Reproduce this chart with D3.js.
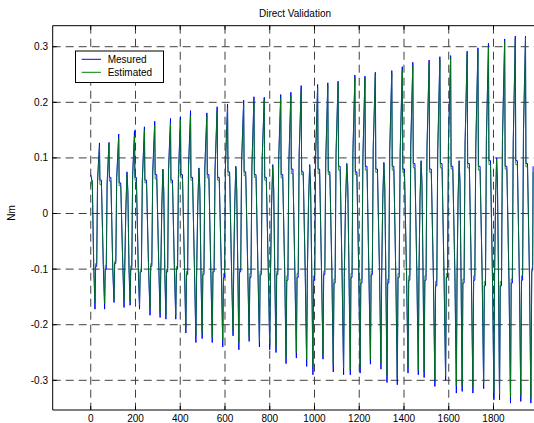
<!DOCTYPE html>
<html><head><meta charset="utf-8">
<script src="https://cdn.jsdelivr.net/npm/d3@7"></script>
<style>body{margin:0;background:#fff}svg{display:block}text{font-family:"Liberation Sans",Arial,sans-serif;fill:#000}</style>
</head><body><svg id="c" width="534" height="423"></svg>
<script>
const title = "Direct Validation";
const yLabel = "Nm";
const seriesNames = ["Mesured", "Estimated"];
const xTicks = [0, 200, 400, 600, 800, 1000, 1200, 1400, 1600, 1800];
const yTicks = [-0.3, -0.2, -0.1, 0, 0.1, 0.2, 0.3];
const yTickLabels = ["-0.3", "-0.2", "-0.1", "0", "0.1", "0.2", "0.3"];

// cycle troughs (time), every 4th cycle is a weak one
const troughX = [19, 62, 104, 149, 176, 218, 265, 310, 336, 380, 425, 470, 498, 543, 590, 636,
  662, 708, 754, 800, 828, 873, 919, 965, 993, 1038, 1084, 1130, 1160, 1204, 1250, 1297,
  1324, 1370, 1418, 1464, 1490, 1538, 1586, 1634, 1660, 1708, 1756, 1802, 1827, 1876, 1922, 1967];

const troughMeasured = [-0.172, -0.172, -0.160, -0.169, -0.165, -0.172, -0.183, -0.187, -0.190, -0.190, -0.215, -0.232,
  -0.225, -0.232, -0.240, -0.220, -0.245, -0.230, -0.240, -0.245, -0.250, -0.270, -0.260, -0.275,
  -0.290, -0.262, -0.285, -0.290, -0.290, -0.287, -0.271, -0.280, -0.304, -0.308, -0.287, -0.290,
  -0.295, -0.311, -0.300, -0.323, -0.320, -0.323, -0.315, -0.335, -0.335, -0.341, -0.338, -0.341];
const troughEstimated = [-0.160, -0.162, -0.155, -0.158, -0.158, -0.165, -0.172, -0.178, -0.182, -0.183, -0.205, -0.220,
  -0.215, -0.222, -0.228, -0.212, -0.232, -0.222, -0.230, -0.235, -0.240, -0.258, -0.250, -0.262,
  -0.275, -0.255, -0.272, -0.278, -0.280, -0.278, -0.262, -0.270, -0.292, -0.296, -0.278, -0.282,
  -0.285, -0.300, -0.292, -0.310, -0.310, -0.312, -0.305, -0.322, -0.325, -0.330, -0.328, -0.332];

const peakMeasured = [0.127, 0.128, 0.143, 0.075, 0.149, 0.156, 0.166, 0.080, 0.171, 0.174, 0.185, 0.082,
  0.181, 0.192, 0.197, 0.085, 0.204, 0.210, 0.209, 0.088, 0.214, 0.218, 0.230, 0.088,
  0.232, 0.235, 0.238, 0.090, 0.249, 0.247, 0.254, 0.092, 0.257, 0.264, 0.272, 0.095,
  0.276, 0.282, 0.284, 0.095, 0.292, 0.298, 0.306, 0.100, 0.314, 0.319, 0.319, 0.100];
const peakEstimated = [0.120, 0.125, 0.135, 0.070, 0.140, 0.150, 0.158, 0.078, 0.162, 0.168, 0.175, 0.080,
  0.176, 0.185, 0.190, 0.082, 0.195, 0.200, 0.204, 0.085, 0.208, 0.212, 0.222, 0.086,
  0.226, 0.230, 0.234, 0.088, 0.244, 0.244, 0.250, 0.090, 0.252, 0.258, 0.266, 0.092,
  0.270, 0.276, 0.280, 0.093, 0.288, 0.292, 0.300, 0.098, 0.310, 0.314, 0.316, 0.098];

const kneeMeasured = [0.060, 0.055, 0.065, 0.010, 0.070, 0.060, 0.075, 0.015, 0.080, 0.070, 0.085, 0.015,
  0.085, 0.080, 0.090, 0.020, 0.095, 0.085, 0.100, 0.020, 0.100, 0.090, 0.105, 0.020,
  0.105, 0.095, 0.110, 0.025, 0.110, 0.100, 0.120, 0.025, 0.115, 0.110, 0.125, 0.030,
  0.120, 0.115, 0.130, 0.030, 0.125, 0.120, 0.135, 0.030, 0.135, 0.130, 0.150, 0.030];
const kneeEstimated = [0.055, 0.050, 0.060, 0.005, 0.065, 0.058, 0.070, 0.010, 0.075, 0.066, 0.080, 0.012,
  0.080, 0.076, 0.086, 0.015, 0.090, 0.080, 0.095, 0.016, 0.095, 0.086, 0.100, 0.018,
  0.100, 0.090, 0.105, 0.020, 0.106, 0.096, 0.115, 0.022, 0.110, 0.105, 0.120, 0.025,
  0.115, 0.110, 0.125, 0.026, 0.120, 0.115, 0.130, 0.028, 0.130, 0.125, 0.145, 0.028];

const upperMeasured = [0.060, 0.065, 0.055, 0.040, 0.065, 0.060, 0.070, 0.040, 0.060, 0.070, 0.065, 0.045,
  0.070, 0.065, 0.075, 0.045, 0.075, 0.070, 0.065, 0.045, 0.070, 0.080, 0.075, 0.050,
  0.080, 0.075, 0.085, 0.050, 0.075, 0.085, 0.080, 0.050, 0.085, 0.080, 0.090, 0.055,
  0.080, 0.090, 0.085, 0.055, 0.090, 0.085, 0.095, 0.055, 0.085, 0.095, 0.090, 0.055];
const upperEstimated = [0.052, 0.058, 0.050, 0.035, 0.060, 0.055, 0.062, 0.038, 0.055, 0.064, 0.060, 0.040,
  0.064, 0.060, 0.068, 0.040, 0.068, 0.065, 0.060, 0.042, 0.064, 0.072, 0.070, 0.045,
  0.072, 0.070, 0.078, 0.046, 0.070, 0.078, 0.074, 0.046, 0.078, 0.074, 0.082, 0.050,
  0.074, 0.082, 0.080, 0.050, 0.082, 0.078, 0.088, 0.050, 0.080, 0.088, 0.084, 0.050];

const lowerMeasured = [-0.095, -0.100, -0.090, -0.100, -0.100, -0.105, -0.095, -0.110, -0.105, -0.100, -0.110, -0.115,
  -0.110, -0.105, -0.115, -0.100, -0.105, -0.115, -0.110, -0.120, -0.110, -0.120, -0.115, -0.110,
  -0.120, -0.110, -0.125, -0.115, -0.115, -0.125, -0.110, -0.120, -0.125, -0.115, -0.120, -0.110,
  -0.120, -0.130, -0.115, -0.125, -0.125, -0.120, -0.130, -0.115, -0.130, -0.125, -0.120, -0.110];
const lowerEstimated = [-0.090, -0.094, -0.086, -0.095, -0.094, -0.100, -0.090, -0.104, -0.100, -0.095, -0.104, -0.108,
  -0.104, -0.100, -0.108, -0.095, -0.100, -0.108, -0.104, -0.112, -0.104, -0.112, -0.108, -0.104,
  -0.112, -0.104, -0.118, -0.108, -0.108, -0.118, -0.104, -0.112, -0.118, -0.108, -0.112, -0.104,
  -0.112, -0.122, -0.108, -0.118, -0.118, -0.112, -0.122, -0.108, -0.122, -0.118, -0.112, -0.104];

// start and end of the records
const headX = [0, 7, 13];
const headMeasured = [0.070, 0.055, -0.090];
const headEstimated = [0.050, 0.060, -0.085];
const tailX = [1971, 1975, 1977];
const tailMeasured = [-0.105, -0.100, 0.085];
const tailEstimated = [-0.100, -0.095, 0.075];

const svg = d3.select("#c");
const L = 52.7, T = 25.7, B = 410, R = 538.25;
const x = d3.scaleLinear().domain([-170, 2000]).range([L, R]);
const y = d3.scaleLinear().domain([-0.3534, 0.3378]).range([B, T]);

svg.append("rect").attr("width", 534).attr("height", 423).attr("fill", "#fff");
svg.append("defs").append("clipPath").attr("id", "clip").append("rect")
  .attr("x", L).attr("y", T).attr("width", R - L).attr("height", B - T);

// grid
const grid = svg.append("g").attr("stroke", "#404040").attr("stroke-width", 1).attr("stroke-dasharray", "8,5").attr("fill", "none");
xTicks.forEach(v => grid.append("line").attr("x1", x(v)).attr("x2", x(v)).attr("y1", T).attr("y2", B));
yTicks.forEach(v => grid.append("line").attr("x1", L).attr("x2", R).attr("y1", y(v)).attr("y2", y(v)));

function build(tr, pk, kn, up, lo, hx, hy, tx, ty) {
  const pts = hx.map((v, i) => [v, hy[i]]);
  for (let i = 0; i < troughX.length; i++) {
    const t = troughX[i];
    const next = troughX[i + 1];
    pts.push([t, tr[i]]);
    if (next === undefined) break;
    if (i % 4 !== 3) {
      const s = (next - t) / 45;
      pts.push([t + 3 * s, lo[i]], [t + 8 * s, lo[i]], [t + 12 * s, kn[i]], [t + 21 * s, pk[i]],
        [t + 23 * s, up[i]], [t + 30 * s, up[i]], [t + 39 * s, lo[i]]);
    } else {
      const s = (next - t) / 27;
      pts.push([t + 3 * s, lo[i]], [t + 8 * s, kn[i]], [t + 13 * s, pk[i]], [t + 17 * s, up[i]], [t + 22 * s, lo[i]]);
    }
  }
  tx.forEach((v, i) => pts.push([v, ty[i]]));
  return pts;
}
const measured = build(troughMeasured, peakMeasured, kneeMeasured, upperMeasured, lowerMeasured, headX, headMeasured, tailX, tailMeasured);
const estimated = build(troughEstimated, peakEstimated, kneeEstimated, upperEstimated, lowerEstimated, headX, headEstimated, tailX, tailEstimated);

const line = d3.line().x(d => x(d[0])).y(d => y(d[1]));
const plot = svg.append("g").attr("clip-path", "url(#clip)");
plot.append("path").attr("d", line(measured)).attr("fill", "none").attr("stroke", "#0000ff").attr("stroke-width", 1);
plot.append("path").attr("d", line(estimated)).attr("fill", "none").attr("stroke", "#008000").attr("stroke-width", 1).attr("stroke-opacity", 0.8);

// axes box
const ax = svg.append("g").attr("stroke", "#000").attr("stroke-width", 1).attr("fill", "none");
ax.append("line").attr("x1", L).attr("x2", R).attr("y1", T).attr("y2", T);
ax.append("line").attr("x1", L).attr("x2", R).attr("y1", B).attr("y2", B);
ax.append("line").attr("x1", L).attr("x2", L).attr("y1", T).attr("y2", B);
xTicks.forEach(v => {
  ax.append("line").attr("x1", x(v)).attr("x2", x(v)).attr("y1", B).attr("y2", B - 4);
  ax.append("line").attr("x1", x(v)).attr("x2", x(v)).attr("y1", T).attr("y2", T + 4);
});
yTicks.forEach(v => ax.append("line").attr("x1", L).attr("x2", L + 4).attr("y1", y(v)).attr("y2", y(v)));

// tick labels
svg.append("g").selectAll("text").data(xTicks).join("text")
  .attr("x", d => x(d)).attr("y", 421.5).attr("text-anchor", "middle").attr("font-size", 10).text(d => d);
svg.append("g").selectAll("text").data(yTicks).join("text")
  .attr("x", 48).attr("y", d => y(d) + 3.5).attr("text-anchor", "end").attr("font-size", 10).text((d, i) => yTickLabels[i]);

svg.append("text").attr("x", 295).attr("y", 16.5).attr("text-anchor", "middle").attr("font-size", 10).text(title);
svg.append("text").attr("transform", "translate(15,213) rotate(-90)").attr("text-anchor", "middle").attr("font-size", 10).text(yLabel);

// legend
const lg = svg.append("g");
lg.append("rect").attr("x", 75.5).attr("y", 51).attr("width", 88).attr("height", 31.5).attr("fill", "#fff").attr("stroke", "#000");
const colors = ["#0000ff", "#008000"];
seriesNames.forEach((n, i) => {
  const yy = 59.3 + i * 13;
  lg.append("line").attr("x1", 81.7).attr("x2", 101).attr("y1", yy).attr("y2", yy).attr("stroke", colors[i]);
  lg.append("text").attr("x", 107.7).attr("y", yy + 3.5).attr("font-size", 10).text(n);
});
</script></body></html>
